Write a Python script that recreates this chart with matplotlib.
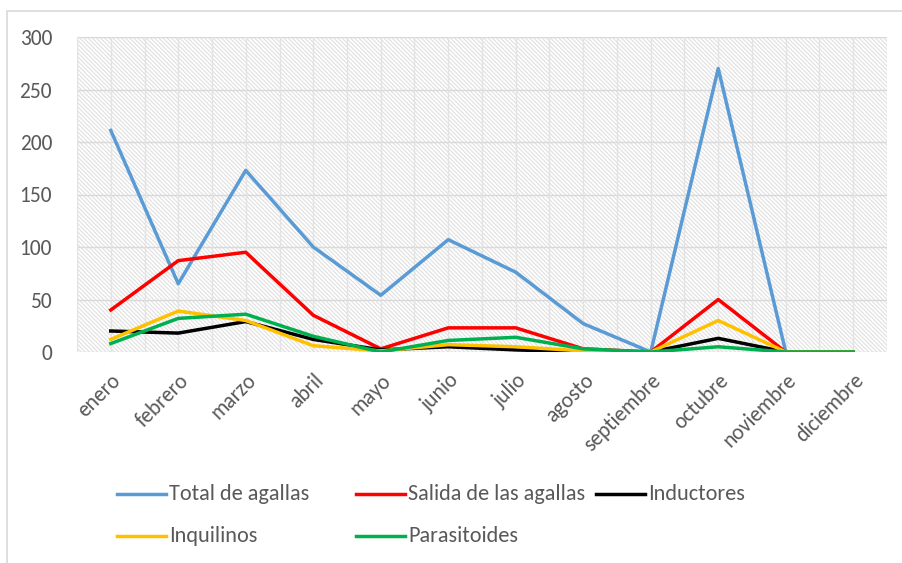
import matplotlib
matplotlib.use("Agg")
import matplotlib.pyplot as plt
from matplotlib.lines import Line2D
from matplotlib.patches import Rectangle
import numpy as np

plt.rcParams['font.family'] = ['Carlito', 'Lato', 'DejaVu Sans']
plt.rcParams['hatch.linewidth'] = 0.8

months = ["enero", "febrero", "marzo", "abril", "mayo", "junio", "julio",
          "agosto", "septiembre", "octubre", "noviembre", "diciembre"]
total = [211, 65, 173, 100, 54, 107, 76, 27, 0, 270, 0, 0]
salida = [40, 87, 95, 35, 3, 23, 23, 3, 0, 50, 0, 0]
inductores = [20, 18, 29, 12, 2, 5, 2, 0, 0, 13, 0, 0]
inquilinos = [12, 39, 30, 6, 1, 7, 5, 1, 0, 30, 0, 0]
parasitoides = [8, 32, 36, 15, 0, 11, 14, 3, 0, 5, 0, 0]

series = [("Total de agallas", total, "#5B9BD5"),
          ("Salida de las agallas", salida, "#FF0000"),
          ("Inductores", inductores, "#000000"),
          ("Inquilinos", inquilinos, "#FFC000"),
          ("Parasitoides", parasitoides, "#00B050")]

W, H = 902, 563
fig = plt.figure(figsize=(W / 100, H / 100), dpi=100)
ax = fig.add_axes([77 / W, 1 - 352 / H, (887 - 77) / W, (352 - 37) / H])

# outer chart border
fig.add_artist(Rectangle((7 / W, -0.1), 1.2, 1 - 11 / H + 0.1, transform=fig.transFigure,
                         fill=False, edgecolor='#d9d9d9', linewidth=1.2))

ax.set_facecolor('white')
ax.add_patch(Rectangle((0, 0), 1, 1, transform=ax.transAxes, facecolor='white',
                       edgecolor='#e0e0e0', linewidth=0, hatch='\\' * 8, zorder=0.5))

x = np.arange(len(months))
for name, vals, col in series:
    ax.plot(x, vals, color=col, linewidth=2.5, solid_joinstyle='round', zorder=3)

ax.set_xlim(-0.5, len(months) - 0.5)
ax.set_ylim(0, 300)
ax.set_yticks(np.arange(0, 301, 50))
for yv in np.arange(0, 301, 50):
    ax.axhline(yv, color='#d9d9d9', linewidth=1, zorder=1)
for xv in np.arange(-0.5, len(months), 0.5):
    ax.axvline(xv, color='#e3e3e3', linewidth=1, zorder=1)
ax.set_xticks(x)
ax.set_xticklabels(months, rotation=45, ha='right', rotation_mode='anchor')
for s in ax.spines.values():
    s.set_visible(False)
ax.tick_params(axis='both', length=0, labelsize=15.5, labelcolor='#595959')
ax.tick_params(axis='y', pad=18)
ax.tick_params(axis='x', pad=13)

# legend (fixed-width columns, as in the reference)
positions = [(117, 494), (356, 494), (596, 494), (117, 536), (356, 536)]
for (name, vals, col), (px, py) in zip(series, positions):
    yf = 1 - py / H
    fig.add_artist(Line2D([px / W, (px + 49) / W], [yf, yf], transform=fig.transFigure,
                          color=col, linewidth=2.5))
    fig.text((px + 52) / W, yf, name, ha='left', va='center', fontsize=16, color='#595959')

fig.savefig("out.png", dpi=100)
